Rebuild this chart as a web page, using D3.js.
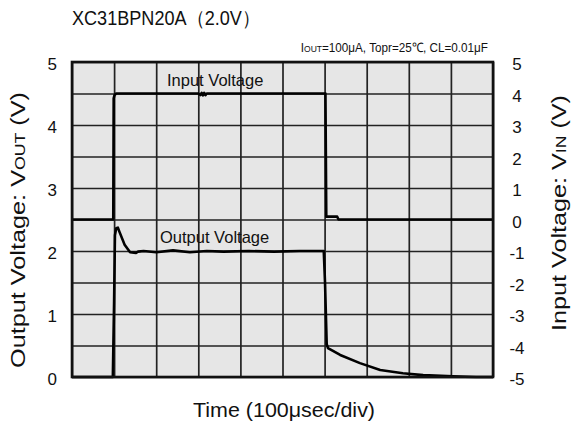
<!DOCTYPE html>
<html><head><meta charset="utf-8">
<script src="https://cdn.jsdelivr.net/npm/d3@7"></script>
<style>body{margin:0;background:#fff}text{font-family:"Liberation Sans",Arial,sans-serif;fill:#111}</style>
</head><body>
<svg id="c" width="571" height="429"></svg>
<script>
// time in microseconds (100 us/div)
const timeTicks = [0,100,200,300,400,500,600,700,800,900,1000];
const leftTicks = [0,1,2,3,4,5];
const rightTicks = [-5,-4,-3,-2,-1,0,1,2,3,4,5];
const inputT = [0,98,99,101,105,300,305,308,311,314,317,320,325,598,602,604,630,633,1000];
const inputV = [0,0,3.85,3.95,4.0,4.0,3.95,4.02,3.94,4.02,3.95,4.0,4.0,4.0,4.0,0.09,0.09,0,0];
const outputT = [0,97,100,102,105,109,113,125,138,152,157,170,200,240,280,320,360,420,480,540,598,601,605,608,637,684,732,786,834,905,960,1000];
const outputV = [0,0,1.2,2.25,2.36,2.37,2.3,2.1,1.98,1.97,1.99,2.0,1.98,2.01,1.98,2.0,1.99,2.0,1.99,2.0,2.0,1.5,0.52,0.46,0.35,0.22,0.11,0.06,0.03,0.01,0.0,0.0];

const svg = d3.select("#c");
const L=72,R=493,T=62,B=377;
const x = d3.scaleLinear().domain([0,1000]).range([L,R]);
const yL = d3.scaleLinear().domain([0,5]).range([B,T]);
const yR = d3.scaleLinear().domain([-5,5]).range([B,T]);

svg.append("rect").attr("x",L).attr("y",T).attr("width",R-L).attr("height",B-T).attr("fill","#e6e6e6");

// grid
const gx = svg.append("g").attr("transform",`translate(0,${B})`)
  .call(d3.axisBottom(x).tickValues(timeTicks).tickSize(-(B-T)).tickFormat(""));
const gy = svg.append("g").attr("transform",`translate(${L},0)`)
  .call(d3.axisLeft(yR).tickValues(rightTicks).tickSize(-(R-L)).tickFormat(""));
[gx,gy].forEach(g=>{g.select(".domain").remove();g.selectAll("line").attr("stroke","#222").attr("stroke-width",1.7);});

// traces
const lineIn = d3.line().x((d,i)=>x(inputT[i])).y(d=>yR(d));
const lineOut = d3.line().x((d,i)=>x(outputT[i])).y(d=>yL(d));
svg.append("path").attr("d",lineIn(inputV)).attr("fill","none").attr("stroke","#000").attr("stroke-width",2.6).attr("stroke-linejoin","round");
svg.append("path").attr("d",lineOut(outputV)).attr("fill","none").attr("stroke","#000").attr("stroke-width",2.6).attr("stroke-linejoin","round");

svg.append("rect").attr("x",L).attr("y",T).attr("width",R-L).attr("height",B-T).attr("fill","none").attr("stroke","#111").attr("stroke-width",2.6);

// axes labels
const fmt = d => String(d);
const al = svg.append("g").attr("transform",`translate(${L},0)`)
  .call(d3.axisLeft(yL).tickValues(leftTicks).tickSize(0).tickPadding(15).tickFormat(fmt));
const ar = svg.append("g").attr("transform",`translate(${R},0)`)
  .call(d3.axisRight(yR).tickValues(rightTicks).tickSize(0).tickPadding(24).tickFormat(fmt));
[al,ar].forEach(g=>{g.select(".domain").remove();g.selectAll("text").attr("font-size",17).attr("font-family","Liberation Sans, Arial, sans-serif").attr("fill","#111").attr("dy","0.45em");});
ar.selectAll("text").attr("text-anchor","middle");

// titles
svg.append("text").attr("x",72).attr("y",25).attr("font-size",20).attr("textLength",188).attr("lengthAdjust","spacingAndGlyphs").text("XC31BPN20A（2.0V）");
const sub = svg.append("text").attr("transform","translate(488,52) scale(0.9,1)").attr("text-anchor","end").attr("font-size",13);
sub.append("tspan").text("I");
sub.append("tspan").attr("font-size",9.5).text("OUT");
sub.append("tspan").text("=100μA, Topr=25℃, CL=0.01μF");

svg.append("text").attr("x",167).attr("y",86).attr("font-size",16.5).text("Input Voltage");
svg.append("text").attr("x",160).attr("y",243).attr("font-size",16.5).text("Output Voltage");

svg.append("text").attr("x",284).attr("y",417).attr("text-anchor","middle").attr("font-size",20).attr("textLength",182).attr("lengthAdjust","spacingAndGlyphs").text("Time (100μsec/div)");

const lt = svg.append("text").attr("transform","translate(25,230) rotate(-90)").attr("text-anchor","middle").attr("font-size",20).attr("textLength",276).attr("lengthAdjust","spacingAndGlyphs");
lt.append("tspan").text("Output Voltage: V");
lt.append("tspan").attr("font-size",14).text("OUT");
lt.append("tspan").text(" (V)");
const rt = svg.append("text").attr("transform","translate(566,213) rotate(-90)").attr("text-anchor","middle").attr("font-size",20).attr("textLength",236).attr("lengthAdjust","spacingAndGlyphs");
rt.append("tspan").text("Input Voltage: V");
rt.append("tspan").attr("font-size",14).text("IN");
rt.append("tspan").text(" (V)");
</script>
</body></html>
